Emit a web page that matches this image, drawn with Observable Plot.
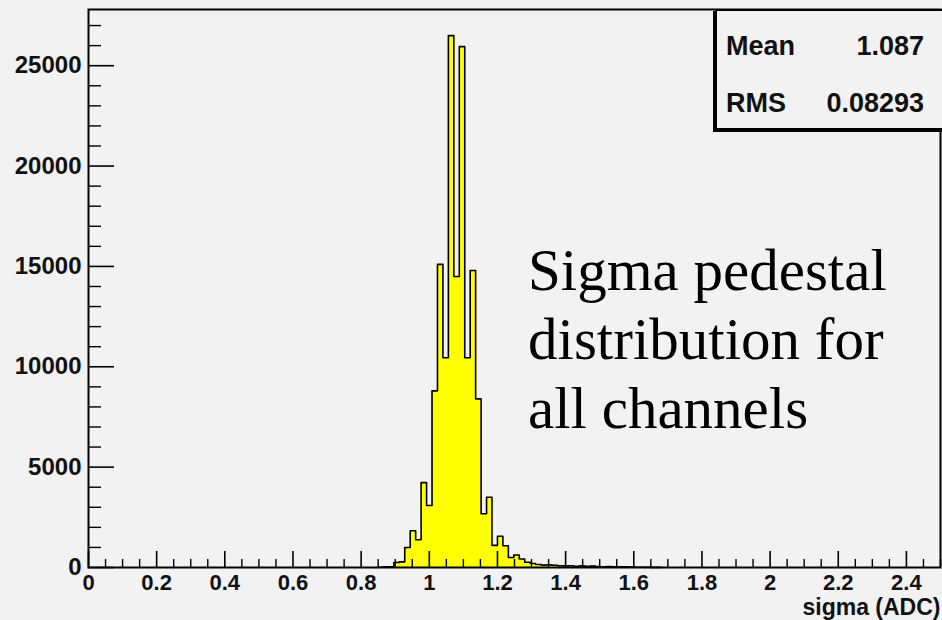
<!DOCTYPE html>
<html>
<head>
<meta charset="utf-8">
<script src="https://cdn.jsdelivr.net/npm/d3@7"></script>
<script src="https://cdn.jsdelivr.net/npm/@observablehq/plot@0.6"></script>
<style>
  html, body { margin: 0; padding: 0; background: #f2f2f2; }
  #wrap { position: relative; width: 942px; height: 620px; overflow: hidden; background: #f2f2f2; }
  #stats { position: absolute; left: 715px; top: 9px; width: 240px; height: 117px;
           border: 2px solid #000; box-shadow: -2px 2px 0 #000; background: #f2f2f2;
           font-family: "Liberation Sans", Arial, sans-serif; font-weight: bold; font-size: 27px; color: #111; }
  .srow { position: absolute; left: 9px; width: 198px; display: flex; justify-content: space-between; line-height: 1; }
  #note { position: absolute; left: 528px; top: 236px; font-family: "Liberation Serif", "Times New Roman", serif;
          font-size: 59px; line-height: 69px; color: #000; white-space: nowrap; }
</style>
</head>
<body>
<div id="wrap"></div>
<script>
// ---- data ----
const binWidth = 0.016;
const binStart = [0.848, 0.864, 0.880, 0.896, 0.912, 0.928, 0.944, 0.960, 0.976, 0.992,
                  1.008, 1.024, 1.040, 1.056, 1.072, 1.088, 1.104, 1.120, 1.136, 1.152,
                  1.168, 1.184, 1.200, 1.216, 1.232, 1.248, 1.264, 1.280, 1.296, 1.312,
                  1.328, 1.344, 1.360, 1.376, 1.392, 1.408, 1.424, 1.440, 1.456, 1.472,
                  1.488, 1.504, 1.520, 1.536, 1.552, 1.568, 1.584, 1.600, 1.616, 1.632,
                  1.648, 1.664];
const counts   = [10, 30, 40, 250, 280, 1000, 1830, 1380, 4230, 3090,
                  8800, 15100, 10450, 26500, 14500, 25950, 10450, 14800, 8400, 2680,
                  3500, 1100, 1560, 1080, 500, 620, 420, 260, 200, 150,
                  120, 130, 110, 90, 80, 90, 60, 80, 60, 70,
                  50, 40, 45, 35, 30, 30, 25, 15, 15, 10,
                  8, 5];
const xMajor = [0, 0.2, 0.4, 0.6, 0.8, 1, 1.2, 1.4, 1.6, 1.8, 2, 2.2, 2.4];
const xTickLabels = ["0", "0.2", "0.4", "0.6", "0.8", "1", "1.2", "1.4", "1.6", "1.8", "2", "2.2", "2.4"];
const yMajor = [0, 5000, 10000, 15000, 20000, 25000];
const yTickLabels = ["0", "5000", "10000", "15000", "20000", "25000"];
const xMinor = d3.range(0, 2.5001, 0.05).filter(v => Math.abs(v / 0.2 - Math.round(v / 0.2)) > 1e-6);
const yMinor = d3.range(0, 27001, 1000).filter(v => v % 5000 !== 0);
const xTitle = "sigma (ADC)";
const statNames = ["Mean", "RMS"];
const statValues = ["1.087", "0.08293"];
const noteLines = ["Sigma pedestal", "distribution for", "all channels"];

// ---- layout ----
const W = 942, H = 620;
const mL = 88, mR = 2, mT = 9, mB = 53;
const xDom = [0, 2.5], yDom = [0, 27800];
const pxX = (xDom[1] - xDom[0]) / (W - mL - mR);
const pxY = (yDom[1] - yDom[0]) / (H - mT - mB);

const bins = binStart.map((x0, i) => ({x0, x1: x0 + binWidth, count: counts[i]}));
const outline = [{x: bins[0].x0, y: 0}]
  .concat(bins.map(b => ({x: b.x0, y: b.count})))
  .concat([{x: bins[bins.length - 1].x1, y: 0}]);

const font = "'Liberation Sans', Arial, sans-serif";

const chart = Plot.plot({
  width: W, height: H,
  marginLeft: mL, marginRight: mR, marginTop: mT, marginBottom: mB,
  style: {background: "#f2f2f2", fontFamily: font, color: "#000", overflow: "visible"},
  x: {domain: xDom, axis: null},
  y: {domain: yDom, axis: null},
  marks: [
    Plot.areaY(outline, {x: "x", y: "y", curve: "step-after", fill: "#ffff00"}),
    Plot.lineY(outline, {x: "x", y: "y", curve: "step-after", stroke: "#000", strokeWidth: 1.6}),
    // x ticks (inward)
    Plot.ruleX(xMajor, {x: d => d, y1: 0, y2: 16 * pxY, stroke: "#000", strokeWidth: 1.6}),
    Plot.ruleX(xMinor, {x: d => d, y1: 0, y2: 8 * pxY, stroke: "#000", strokeWidth: 1.4}),
    // y ticks (inward)
    Plot.ruleY(yMajor, {y: d => d, x1: 0, x2: 26 * pxX, stroke: "#000", strokeWidth: 1.6}),
    Plot.ruleY(yMinor, {y: d => d, x1: 0, x2: 13 * pxX, stroke: "#000", strokeWidth: 1.4}),
    Plot.frame({stroke: "#000", strokeWidth: 2}),
    // tick labels
    Plot.text(xMajor, {x: d => d, y: 0, text: (d, i) => xTickLabels[i], lineAnchor: "top", dy: 7,
      fontSize: 22, fontWeight: "bold", fill: "#111"}),
    Plot.text(yMajor, {x: 0, y: d => d, text: (d, i) => yTickLabels[i], textAnchor: "end", dx: -7,
      fontSize: 24, fontWeight: "bold", fill: "#111"}),
    Plot.text([xTitle], {frameAnchor: "bottom-right", text: d => d, textAnchor: "end", lineAnchor: "middle",
      dy: 40, fontSize: 23, fontWeight: "bold", fill: "#111"})
  ]
});

const wrap = document.getElementById("wrap");
wrap.appendChild(chart);

const stats = document.createElement("div");
stats.id = "stats";
statNames.forEach((n, i) => {
  const row = document.createElement("div");
  row.className = "srow";
  row.style.top = (i === 0 ? 22 : 79) + "px";
  const a = document.createElement("span"); a.textContent = n;
  const b = document.createElement("span"); b.textContent = statValues[i];
  row.appendChild(a); row.appendChild(b);
  stats.appendChild(row);
});
wrap.appendChild(stats);

const note = document.createElement("div");
note.id = "note";
note.innerHTML = noteLines.map(s => s.replace(/&/g, "&amp;")).join("<br>");
wrap.appendChild(note);
</script>
</body>
</html>
